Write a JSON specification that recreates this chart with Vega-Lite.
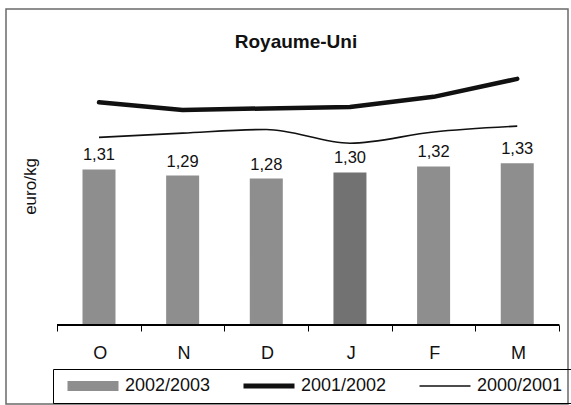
{
  "$schema": "https://vega.github.io/schema/vega-lite/v6.json",
  "width": 562,
  "height": 395,
  "autosize": "none",
  "padding": {"left": 6, "top": 9, "right": 3, "bottom": 1},
  "background": "white",
  "title": {"text": "Royaume-Uni", "fontSize": 19, "fontWeight": "bold", "font": "Liberation Sans", "color": "#111", "anchor": "middle", "frame": "group", "offset": -38, "baseline": "alphabetic", "dx": 9, "dy": 20},
  "config": {
    "view": {"stroke": "#6a6a6a", "strokeWidth": 1.5},
    "axis": {"grid": false},
    "font": "Liberation Sans",
    "locale": {"number": {"decimal": ",", "thousands": " ", "grouping": [3], "currency": ["", " €"]}}
  },
  "data": {"values": [
    {"month": "O", "idx": 0, "series": "2002/2003", "value": 1.31},
    {"month": "N", "idx": 1, "series": "2002/2003", "value": 1.29},
    {"month": "D", "idx": 2, "series": "2002/2003", "value": 1.28},
    {"month": "J", "idx": 3, "series": "2002/2003", "value": 1.30},
    {"month": "F", "idx": 4, "series": "2002/2003", "value": 1.32},
    {"month": "M", "idx": 5, "series": "2002/2003", "value": 1.33},
    {"month": "O", "idx": 0, "series": "2001/2002", "value": 1.53},
    {"month": "N", "idx": 1, "series": "2001/2002", "value": 1.505},
    {"month": "D", "idx": 2, "series": "2001/2002", "value": 1.51},
    {"month": "J", "idx": 3, "series": "2001/2002", "value": 1.515},
    {"month": "F", "idx": 4, "series": "2001/2002", "value": 1.548},
    {"month": "M", "idx": 5, "series": "2001/2002", "value": 1.607},
    {"month": "O", "idx": 0, "series": "2000/2001", "value": 1.415},
    {"month": "N", "idx": 1, "series": "2000/2001", "value": 1.429},
    {"month": "D", "idx": 2, "series": "2000/2001", "value": 1.441},
    {"month": "J", "idx": 3, "series": "2000/2001", "value": 1.396},
    {"month": "F", "idx": 4, "series": "2000/2001", "value": 1.433},
    {"month": "M", "idx": 5, "series": "2000/2001", "value": 1.452}
  ]},
  "layer": [
    {
      "transform": [{"filter": "datum.series === '2002/2003'"}],
      "mark": {"type": "bar", "width": 33},
      "encoding": {
        "x": {"field": "idx", "type": "quantitative",
          "scale": {"domain": [-1.052, 5.547], "nice": false, "zero": false},
          "axis": {"values": [-0.5, 0.5, 1.5, 2.5, 3.5, 4.5, 5.5], "offset": -79, "domain": false, "tickSize": 6, "tickColor": "#000", "tickWidth": 1,
            "labelExpr": "['O','N','D','J','F','M',''][round(datum.value + 0.5)]", "labelOffset": 42.6, "labelFlush": false, "labelBound": false, "labelOverlap": false,
            "labelFontSize": 18, "labelColor": "#111", "labelPadding": 13, "title": null}},
        "y": {"field": "value", "type": "quantitative",
          "scale": {"domain": [0.541, 1.836], "nice": false, "zero": false},
          "axis": {"domain": false, "ticks": false, "labels": false, "title": "euro/kg", "titleFontSize": 17, "titleFontWeight": "normal", "titleColor": "#111",
            "titleAngle": -90, "titleAlign": "center", "titleBaseline": "middle", "titleX": 24, "titleY": 177}},
        "y2": {"datum": 0.8},
        "color": {"condition": {"test": "datum.month === 'J'", "value": "#727272"}, "value": "#8e8e8e"}
      }
    },
    {
      "mark": {"type": "rule", "color": "#000", "strokeWidth": 1},
      "encoding": {
        "x": {"datum": -0.5, "type": "quantitative"},
        "x2": {"datum": 5.5},
        "y": {"datum": 0.8, "type": "quantitative"}
      }
    },
    {
      "transform": [{"filter": "datum.series === '2002/2003'"}],
      "mark": {"type": "text", "fontSize": 16.5, "color": "#111", "baseline": "alphabetic", "dy": -9},
      "encoding": {
        "x": {"field": "idx", "type": "quantitative"},
        "y": {"field": "value", "type": "quantitative"},
        "text": {"field": "value", "type": "quantitative", "format": ".2f"}
      }
    },
    {
      "transform": [{"filter": "datum.series === '2000/2001'"}],
      "mark": {"type": "line", "color": "#111", "strokeWidth": 1.6, "interpolate": "monotone"},
      "encoding": {
        "x": {"field": "idx", "type": "quantitative"},
        "y": {"field": "value", "type": "quantitative"}
      }
    },
    {
      "transform": [{"filter": "datum.series === '2001/2002'"}],
      "mark": {"type": "line", "color": "#111", "strokeWidth": 4.5, "strokeCap": "round", "strokeJoin": "round"},
      "encoding": {
        "x": {"field": "idx", "type": "quantitative"},
        "y": {"field": "value", "type": "quantitative"}
      }
    },
    {
      "mark": {"type": "point", "filled": true, "opacity": 0},
      "encoding": {
        "x": {"field": "idx", "type": "quantitative"},
        "y": {"field": "value", "type": "quantitative"},
        "color": {"field": "series", "type": "nominal",
          "scale": {"domain": ["2002/2003", "2001/2002", "2000/2001"], "range": ["#8e8e8e", "#111111", "#111111"]},
          "legend": {"orient": "none", "legendX": 47, "legendY": 360, "direction": "horizontal", "title": null,
            "strokeColor": "#000", "padding": 8, "columnPadding": 26, "labelFontSize": 18, "labelColor": "#111", "labelOffset": 23, "labelLimit": 200,
            "symbolSize": 289, "symbolOffset": 23, "symbolOpacity": 1, "symbolStrokeWidth": 0}},
        "shape": {"field": "series", "type": "nominal",
          "scale": {"domain": ["2002/2003", "2001/2002", "2000/2001"], "range": ["M-3,-0.6H3V0.6H-3Z", "M-3,-0.28H3V0.28H-3Z", "M-3,-0.09H3V0.09H-3Z"]},
          "legend": {"orient": "none", "legendX": 47, "legendY": 360, "direction": "horizontal", "title": null,
            "strokeColor": "#000", "padding": 8, "columnPadding": 26, "labelFontSize": 18, "labelColor": "#111", "labelOffset": 23, "labelLimit": 200,
            "symbolSize": 289, "symbolOffset": 23, "symbolOpacity": 1, "symbolStrokeWidth": 0}}
      }
    }
  ]
}
